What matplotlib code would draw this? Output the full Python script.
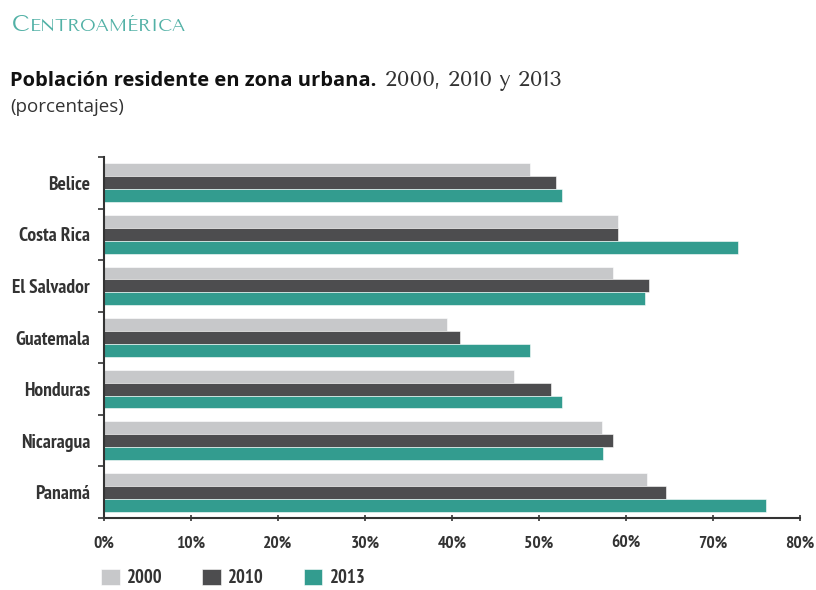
import matplotlib
matplotlib.use("Agg")
import matplotlib.pyplot as plt
import numpy as np

countries = ["Belice", "Costa Rica", "El Salvador", "Guatemala", "Honduras", "Nicaragua", "Panamá"]
years = ["2000", "2010", "2013"]
v2000 = [49.0, 59.1, 58.5, 39.4, 47.1, 57.2, 62.4]
v2010 = [51.9, 59.1, 62.6, 40.9, 51.4, 58.5, 64.6]
v2013 = [52.7, 72.9, 62.2, 49.0, 52.7, 57.3, 76.1]
xticks = [0, 10, 20, 30, 40, 50, 60, 70, 80]
xticklabels = ["0%", "10%", "20%", "30%", "40%", "50%", "60%", "70%", "80%"]

colors = ["#c7c8ca", "#4d4d4f", "#339c8f"]
narrow = ["PT Sans Narrow", "DejaVu Sans"]
tfont = ["Open Sans", "DejaVu Sans"]
scfont = ["Tenor Sans", "Open Sans", "DejaVu Sans"]

fig = plt.figure(figsize=(8.16, 5.9), dpi=100)
ax = fig.add_axes([104/816, 1-518/590, 696/816, 361/590])

n = len(countries)
y = np.arange(n)
h = 0.25
for i, (vals, c, lab) in enumerate(zip([v2000, v2010, v2013], colors, years)):
    ax.barh(y + (i - 1) * h, vals, height=h, color=c, label=lab, edgecolor="white", linewidth=0.4)

ax.set_ylim(n - 0.5, -0.5)
ax.set_xlim(0, 80)
ax.set_xticks(xticks)
ax.set_xticklabels(xticklabels, fontfamily=narrow, fontweight="bold", fontsize=12.5, color="#333333")
ax.set_yticks(y)
ax.set_yticklabels(countries, fontfamily=narrow, fontweight="bold", fontsize=14, color="#333333")
ax.set_yticks(np.arange(n + 1) - 0.5, minor=True)
ax.tick_params(axis="y", which="major", length=0, pad=10)
ax.tick_params(axis="y", which="minor", length=4, width=1.2, color="#333333")
ax.tick_params(axis="x", which="major", length=4, width=1.2, color="#333333", direction="inout", pad=11)
for s in ["top", "right"]:
    ax.spines[s].set_visible(False)
for s in ["left", "bottom"]:
    ax.spines[s].set_linewidth(1.5)
    ax.spines[s].set_color("#333333")

# Titles
teal_t = "#52b1a6"
fig.canvas.draw()
r = fig.canvas.get_renderer()
t1 = fig.text(12/816, 1-31/590, "C", fontsize=16.5, color=teal_t, fontfamily=scfont, va="baseline")
ext = t1.get_window_extent(r)
fig.text(ext.x1/816 + 0.001, 1-31/590, "ENTROAMÉRICA", fontsize=13, color=teal_t, fontfamily=scfont, va="baseline")

t2 = fig.text(10/816, 1-86/590, "Población residente en zona urbana.", fontsize=14.5, fontweight="bold",
              color="#111111", fontfamily=tfont, va="baseline")
ext2 = t2.get_window_extent(r)
fig.text(ext2.x1/816 + 0.010, 1-86/590, "2000, 2010 y 2013", fontsize=15.5, color="#333333",
         fontfamily=scfont, va="baseline")
fig.text(10/816, 1-112/590, "(porcentajes)", fontsize=13.5, color="#333333", fontfamily=tfont, va="baseline")

leg = fig.legend(loc="lower left", bbox_to_anchor=(84/816, -14/590), ncol=3, frameon=False,
                 prop={"family": narrow, "weight": "bold", "size": 13.5},
                 handlelength=1.0, handleheight=0.95, handletextpad=0.4, columnspacing=2.1)
for t in leg.get_texts():
    t.set_color("#333333")

fig.savefig("out.png", dpi=100)
